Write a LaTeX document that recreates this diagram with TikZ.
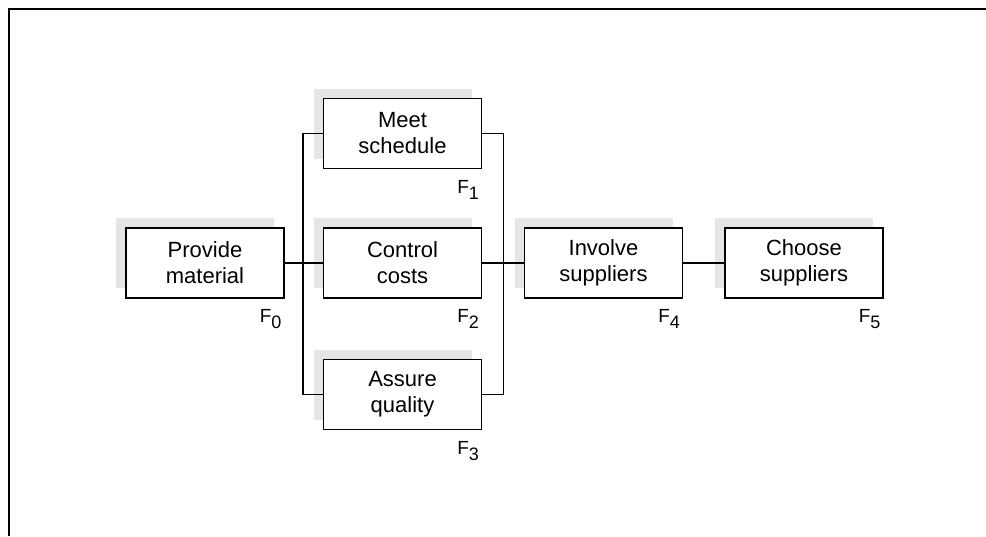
\documentclass[tikz,border=0pt]{standalone}
\usepackage{fontspec}
\setmainfont{Liberation Sans}
\usetikzlibrary{calc,shadows}
% function label: F with a large, lowered index
\newcommand{\fnlabel}[1]{F\raisebox{-6pt}{\fontsize{18}{18}\selectfont #1}}
\begin{document}
\begin{tikzpicture}[x=1pt,y=-1pt,
  funcbox/.style={draw=black, line width=1.3pt, fill=white,
    minimum width=158pt, minimum height=70pt, inner sep=0pt,
    align=center, font=\fontsize{22}{26}\selectfont,
    general shadow={shadow xshift=-10pt, shadow yshift=10pt,
      fill=black!10, draw=none}},
  wire/.style={draw=black, line width=1.3pt},
  frameline/.style={draw=black, line width=1.6pt},
  flabel/.style={font=\fontsize{19}{22}\selectfont, inner sep=0pt, anchor=base east}]
  \useasboundingbox (0,0) rectangle (986,536);

  % outer frame: top and left edges only
  \coordinate (frameTL) at (9,9);
  \coordinate (frameTR) at (986,9);
  \coordinate (frameBL) at (9,536);
  \draw[frameline] (frameBL) -- (frameTL) -- (frameTR);

  % function boxes
  \node[funcbox] (f0) at (205,263)   {Provide\\material};
  \node[funcbox] (f1) at (402.5,133.5) {Meet\\schedule};
  \node[funcbox] (f2) at (402.5,263)   {Control\\costs};
  \node[funcbox] (f3) at (402.5,394.5) {Assure\\quality};
  \node[funcbox] (f4) at (603.5,263)   {Involve\\suppliers};
  \node[funcbox] (f5) at (804,263)     {Choose\\suppliers};

  % function labels under each box
  \foreach \n in {0,...,5}
    \node[flabel] (l\n) at ($(f\n.south east)+(-3,24)$) {\fnlabel{\n}};

  % bus points between the columns
  \coordinate (busL) at (303,263);
  \coordinate (busR) at (503.5,263);

  % connectors
  \draw[wire] (f0.east) -- (busL) -- (f2.west);
  \draw[wire] (f1.west) -| (busL) |- (f3.west);
  \draw[wire] (f2.east) -- (busR) -- (f4.west);
  \draw[wire] (f1.east) -| (busR) |- (f3.east);
  \draw[wire] (f4.east) -- (f5.west);
\end{tikzpicture}
\end{document}
